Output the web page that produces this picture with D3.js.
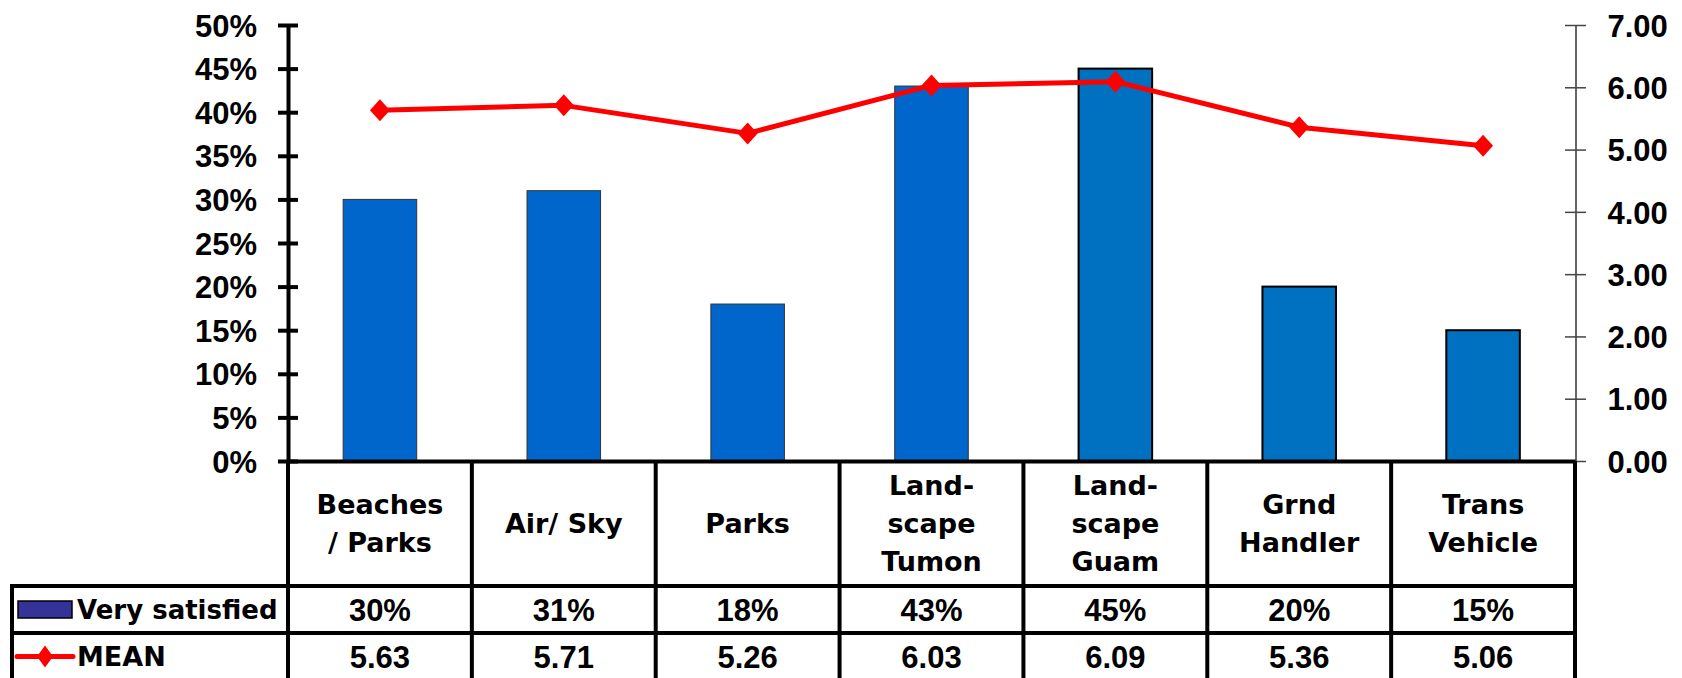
<!DOCTYPE html>
<html>
<head>
<meta charset="utf-8">
<script src="https://cdn.jsdelivr.net/npm/d3@7/dist/d3.min.js"></script>
<style>
  html, body { margin: 0; padding: 0; background: #ffffff; }
  svg { display: block; }
</style>
</head>
<body>
<svg id="chart" width="1682" height="678"></svg>
<script>
// ---- data ----
const categories = ["Beaches / Parks", "Air/ Sky", "Parks", "Landscape Tumon", "Landscape Guam", "Grnd Handler", "Trans Vehicle"];
const categoryLines = [["Beaches", "/ Parks"], ["Air/ Sky"], ["Parks"], ["Land-", "scape", "Tumon"], ["Land-", "scape", "Guam"], ["Grnd", "Handler"], ["Trans", "Vehicle"]];
const verySatisfied = [0.30, 0.31, 0.18, 0.43, 0.45, 0.20, 0.15];
const meanValues = [5.63, 5.71, 5.26, 6.03, 6.09, 5.36, 5.06];
const leftTicks = [0, 0.05, 0.10, 0.15, 0.20, 0.25, 0.30, 0.35, 0.40, 0.45, 0.50];
const rightTicks = [0, 1, 2, 3, 4, 5, 6, 7];
const seriesNames = ["Very satisfied", "MEAN"];

// ---- layout ----
const svg = d3.select("#chart");
const plotLeft = 288, plotRight = 1575, plotTop = 25, plotBottom = 461;
const tableLeft = 12, row1Top = 586, row2Top = 633, rowH = 47, tableBottom = 690;
const numFont = "'Liberation Sans', Arial, sans-serif";
const wordFont = "'DejaVu Sans', sans-serif";

const x = d3.scaleBand().domain(categories).range([plotLeft, plotRight]).padding(0);
const xBar = d3.scaleBand().domain(categories).range([plotLeft, plotRight]).paddingInner(0.6).paddingOuter(0.3);
const yPct = d3.scaleLinear().domain([0, 0.5]).range([plotBottom, plotTop]);
const yMean = d3.scaleLinear().domain([0, 7]).range([plotBottom, plotTop]);

// ---- bars ----
svg.append("g").selectAll("rect").data(verySatisfied).join("rect")
  .attr("x", (d, i) => xBar(categories[i]))
  .attr("y", d => yPct(d))
  .attr("width", xBar.bandwidth())
  .attr("height", d => plotBottom - yPct(d))
  .attr("fill", (d, i) => i < 4 ? "#0066CC" : "#0070C0")
  .attr("stroke", (d, i) => i < 4 ? "#333333" : "#000000")
  .attr("stroke-width", (d, i) => i < 4 ? 1 : 2);

// ---- left axis ----
const gL = svg.append("g").attr("transform", `translate(${plotLeft},0)`)
  .call(d3.axisLeft(yPct).tickValues(leftTicks).tickFormat(d3.format(".0%")).tickSize(10).tickSizeOuter(0).tickPadding(21));
gL.select(".domain").attr("stroke", "#000").attr("stroke-width", 4);
gL.selectAll(".tick line").attr("x1", 10).attr("x2", -10).attr("stroke", "#000").attr("stroke-width", 4);
gL.selectAll(".tick text").attr("font-family", numFont).attr("font-weight", "bold").attr("font-size", 31).attr("fill", "#000").attr("dy", "0.36em");

// ---- right axis ----
const gR = svg.append("g").attr("transform", `translate(${plotRight + 0.5},0)`)
  .call(d3.axisRight(yMean).tickValues(rightTicks).tickFormat(d3.format(".2f")).tickSize(11).tickSizeOuter(0).tickPadding(21));
gR.select(".domain").attr("stroke", "#000").attr("stroke-width", 1.2);
gR.selectAll(".tick line").attr("x1", -10.5).attr("x2", 10.5).attr("stroke", "#444").attr("stroke-width", 1.5);
gR.selectAll(".tick text").attr("font-family", numFont).attr("font-weight", "bold").attr("font-size", 31).attr("fill", "#000").attr("dy", "0.36em");

// ---- bottom axis ----
const gB = svg.append("g").attr("transform", `translate(0,${plotBottom})`)
  .call(d3.axisBottom(x).tickSize(0).tickFormat(""));
gB.select(".domain").attr("stroke", "#000").attr("stroke-width", 4);

// ---- mean line ----
const line = d3.line().x((d, i) => x(categories[i]) + x.bandwidth() / 2).y(d => yMean(d));
svg.append("path").datum(meanValues)
  .attr("d", line).attr("fill", "none").attr("stroke", "#FF0000").attr("stroke-width", 5).attr("stroke-linejoin", "round");
const diamond = (cx, cy, hw, hh) => `M${cx},${cy - hh}L${cx + hw},${cy}L${cx},${cy + hh}L${cx - hw},${cy}Z`;
svg.append("g").selectAll("path").data(meanValues).join("path")
  .attr("d", (d, i) => diamond(x(categories[i]) + x.bandwidth() / 2, yMean(d), 10, 11))
  .attr("fill", "#FF0000");

// ---- data table ----
const tg = svg.append("g");
const bounds = categories.map(c => x(c)).concat([plotRight]);
tg.selectAll("line.v").data(bounds).join("line")
  .attr("x1", d => d).attr("x2", d => d)
  .attr("y1", plotBottom).attr("y2", tableBottom)
  .attr("stroke", "#000").attr("stroke-width", 4);
tg.append("line").attr("x1", tableLeft).attr("x2", tableLeft).attr("y1", row1Top - 2).attr("y2", tableBottom)
  .attr("stroke", "#000").attr("stroke-width", 4);
[row1Top, row2Top].forEach(yy => {
  tg.append("line").attr("x1", tableLeft - 2).attr("x2", plotRight + 2).attr("y1", yy).attr("y2", yy)
    .attr("stroke", "#000").attr("stroke-width", 4);
});

// category header labels
const headCenter = (plotBottom + row1Top) / 2;
const lineGap = 38;
categoryLines.forEach((lines, i) => {
  const cx = x(categories[i]) + x.bandwidth() / 2;
  const n = lines.length;
  lines.forEach((t, j) => {
    tg.append("text")
      .attr("x", cx)
      .attr("y", headCenter + (j - (n - 1) / 2) * lineGap + 9.8)
      .attr("text-anchor", "middle")
      .attr("font-family", wordFont).attr("font-weight", "bold").attr("font-size", 27)
      .attr("fill", "#000").text(t);
  });
});

// value rows
const r1c = row1Top + rowH / 2, r2c = row2Top + rowH / 2;
tg.selectAll("text.v1").data(verySatisfied).join("text")
  .attr("x", (d, i) => x(categories[i]) + x.bandwidth() / 2).attr("y", r1c + 11)
  .attr("text-anchor", "middle").attr("font-family", numFont).attr("font-weight", "bold").attr("font-size", 31)
  .attr("fill", "#000").text(d => d3.format(".0%")(d));
tg.selectAll("text.v2").data(meanValues).join("text")
  .attr("x", (d, i) => x(categories[i]) + x.bandwidth() / 2).attr("y", r2c + 11)
  .attr("text-anchor", "middle").attr("font-family", numFont).attr("font-weight", "bold").attr("font-size", 31)
  .attr("fill", "#000").text(d => d3.format(".2f")(d));

// legend keys
tg.append("rect").attr("x", 18).attr("y", 601).attr("width", 54).attr("height", 17)
  .attr("fill", "#333399").attr("stroke", "#000").attr("stroke-width", 1.5);
tg.append("line").attr("x1", 17).attr("x2", 73).attr("y1", r2c).attr("y2", r2c)
  .attr("stroke", "#FF0000").attr("stroke-width", 5).attr("stroke-linecap", "round");
tg.append("path").attr("d", diamond(45, r2c, 8, 11)).attr("fill", "#FF0000");
tg.append("text").attr("x", 77).attr("y", r1c + 9.8)
  .attr("font-family", wordFont).attr("font-weight", "bold").attr("font-size", 26).attr("fill", "#000").text(seriesNames[0]);
tg.append("text").attr("x", 77).attr("y", r2c + 9.8)
  .attr("font-family", wordFont).attr("font-weight", "bold").attr("font-size", 27).attr("fill", "#000").text(seriesNames[1]);
</script>
</body>
</html>
